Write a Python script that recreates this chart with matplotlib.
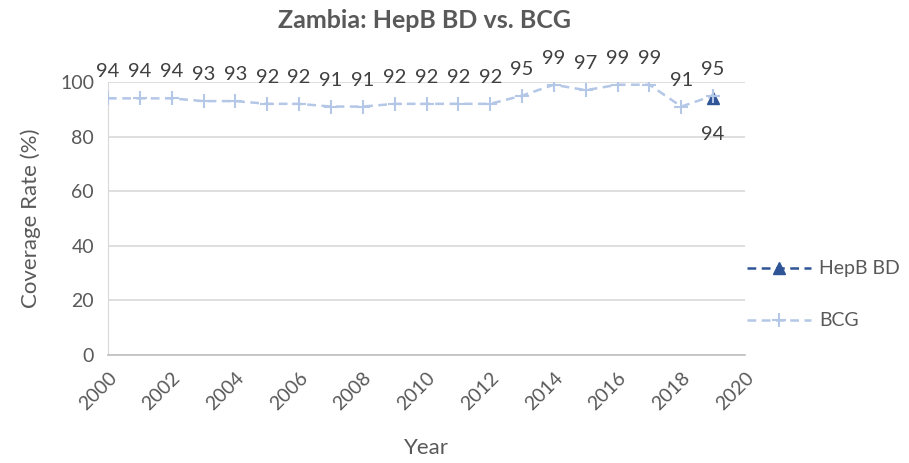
import matplotlib
matplotlib.use("Agg")
import matplotlib.pyplot as plt

plt.rcParams['font.family'] = ['Lato', 'DejaVu Sans']

years = list(range(2000, 2020))
bcg = [94, 94, 94, 93, 93, 92, 92, 91, 91, 92, 92, 92, 92, 95, 99, 97, 99, 99, 91, 95]
hepb_years = [2019]
hepb = [94]

title = "Zambia: HepB BD vs. BCG"
xticks = list(range(2000, 2021, 2))
yticks = list(range(0, 101, 20))

txt = '#595959'
fig = plt.figure(figsize=(9.09, 4.63), dpi=100)
ax = fig.add_axes([0.1188, 0.2333, 0.7008, 0.5896])

ax.plot(years, bcg, linestyle='--', color='#b4c7e7', lw=1.8, marker='+',
        markersize=10, markeredgewidth=1.5, label='BCG', zorder=3, dashes=(3.5, 2.2))
ax.plot(hepb_years, hepb, linestyle='--', color='#2f5597', lw=1.8, marker='^',
        markersize=9, label='HepB BD', zorder=4, dashes=(3.5, 2.2))
ax.plot(years[-1:], bcg[-1:], linestyle='none', color='#b4c7e7', marker='+',
        markersize=10, markeredgewidth=1.5, zorder=5)

for x, y in zip(years, bcg):
    ax.annotate(str(y), (x, y), xytext=(0, 13), textcoords='offset points',
                ha='center', va='bottom', fontsize=14.5, color='#404040')
for x, y in zip(hepb_years, hepb):
    ax.annotate(str(y), (x, y), xytext=(0, -20), textcoords='offset points',
                ha='center', va='top', fontsize=14.5, color='#404040')

ax.set_xlim(2000, 2020)
ax.set_ylim(0, 100)
ax.set_xticks(xticks)
ax.set_yticks(yticks)
ax.set_xticklabels([str(t) for t in xticks], rotation=45, ha='right',
                   rotation_mode='anchor', fontsize=14, color=txt)
ax.tick_params(axis='y', labelsize=14, labelcolor=txt, length=0, pad=10)
ax.tick_params(axis='x', length=0, pad=10)
ax.grid(axis='y', color='#d9d9d9', lw=1.2)
ax.set_axisbelow(True)
for s in ['top', 'right']:
    ax.spines[s].set_visible(False)
ax.spines['left'].set_color('#d9d9d9')
ax.spines['bottom'].set_color('#bfbfbf')
ax.spines['bottom'].set_linewidth(1.2)

ax.set_xlabel('Year', fontsize=16, color=txt, labelpad=18)
ax.set_ylabel('Coverage Rate (%)', fontsize=16, color=txt, labelpad=14)
fig.text(0.4675, 0.955, title, ha='center', va='center', fontsize=18,
         fontweight='bold', color=txt)

handles, labels = ax.get_legend_handles_labels()
order = [1, 0]
leg = ax.legend([handles[i] for i in order], [labels[i] for i in order],
                loc='center left', bbox_to_anchor=(1.0, 0.22), frameon=False,
                fontsize=14, labelcolor=txt, handlelength=3.3, labelspacing=1.8,
                handletextpad=0.4, borderaxespad=0, borderpad=0.1)

fig.savefig('out.png', dpi=100)
